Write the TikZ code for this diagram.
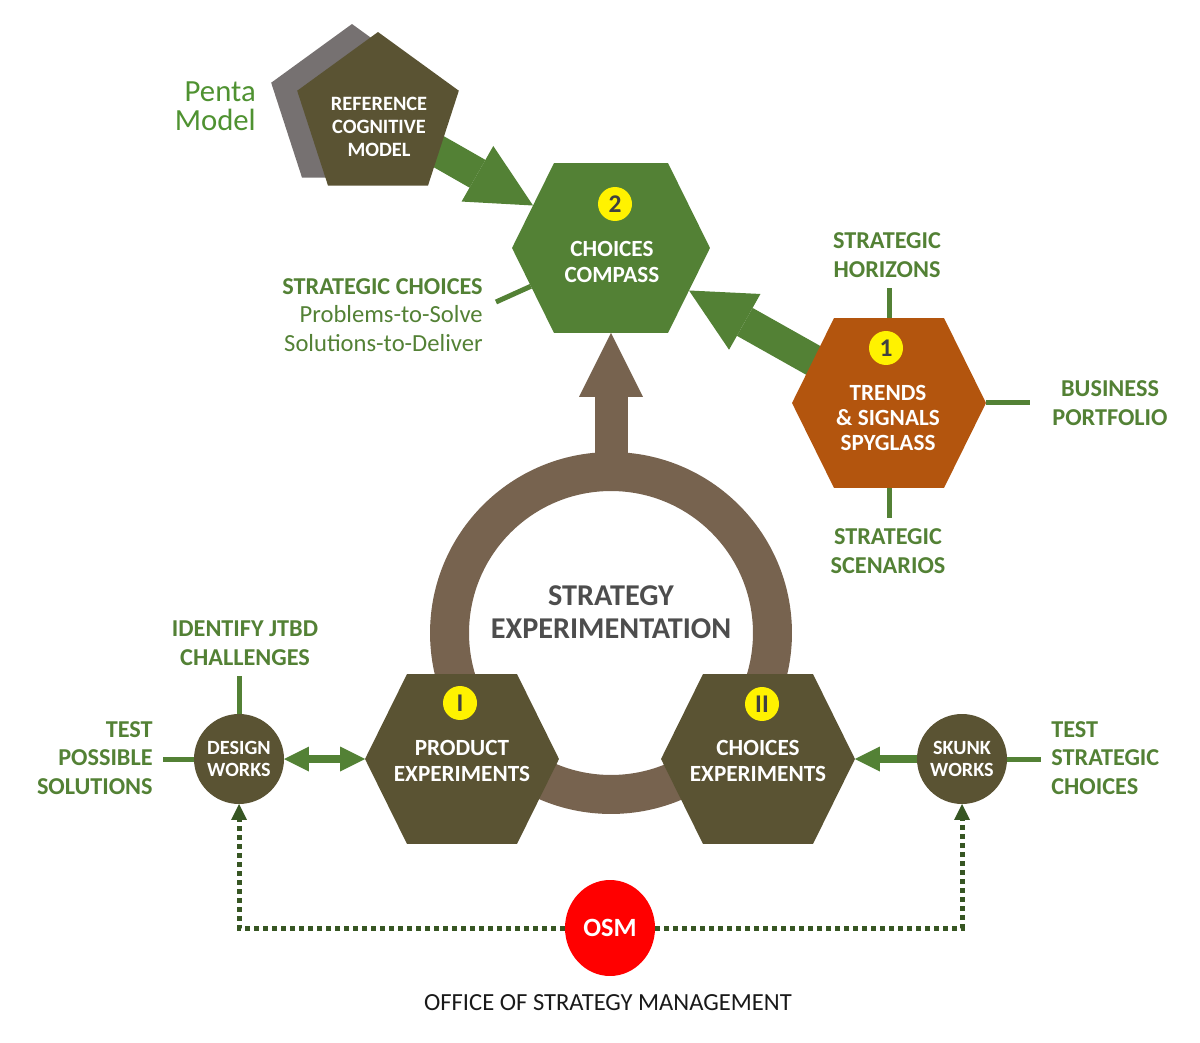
\documentclass[tikz,border=0pt]{standalone}
\usepackage{fontspec}
\setmainfont{Carlito}
\usepackage{tikz}
\usetikzlibrary{positioning,shapes.geometric,arrows.meta,calc,backgrounds}
\definecolor{smgreen}{HTML}{538135}
\definecolor{smlight}{HTML}{4F9231}
\definecolor{smolive}{HTML}{5A5333}
\definecolor{smgrey}{HTML}{767171}
\definecolor{smring}{HTML}{77634F}
\definecolor{smrust}{HTML}{B3550E}
\definecolor{smdot}{HTML}{375623}
\definecolor{smred}{HTML}{FF0000}
\definecolor{smink}{HTML}{4D4D4D}
\definecolor{smbadge}{HTML}{404040}
\newcommand{\fs}[2]{\fontsize{#1pt}{#2pt}\selectfont}
\newcommand{\hexfill}[2]{\fill[#2] (#1.west) -- ([xshift=.84cm]#1.north west) -- ([xshift=-.84cm]#1.north east) -- (#1.east) -- ([xshift=-.84cm]#1.south east) -- ([xshift=.84cm]#1.south west) -- cycle;}
\tikzset{
  hexbox/.style={minimum width=3.88cm,minimum height=3.4cm,inner sep=0pt,outer sep=0pt},
  hextxt/.style={text=white,align=center,font=\fs{13.2}{14.5}\bfseries,inner sep=0pt},
  badge/.style={circle,fill=yellow,minimum size=0.68cm,inner sep=0pt,text=smbadge,font=\fs{14.5}{14.5}\bfseries},
  pent/.style={regular polygon,regular polygon sides=5,minimum size=3.4cm,inner sep=0pt,outer sep=0pt},
  lab/.style={text=smgreen,align=center,font=\fs{13.8}{16.2}\bfseries,inner sep=0.2cm},
  works/.style={circle,fill=smolive,minimum size=1.8cm,inner sep=0pt,outer sep=0pt,text=white,align=center,font=\fs{11.5}{13}\bfseries},
  spoke/.style={draw=smgreen,line width=0.1cm},
  bigarrow/.style={line width=0.64cm,-{Triangle[length=1.28cm,width=1.28cm,line width=0pt]}},
  link/.style={draw=smgreen,line width=0.16cm,-{Triangle[length=0.5cm,width=0.5cm,line width=0pt]}},
  link2/.style={link,{Triangle[length=0.5cm,width=0.5cm,line width=0pt]}-{Triangle[length=0.5cm,width=0.5cm,line width=0pt]}},
  osmlink/.style={draw=smdot,line width=0.1cm,dash pattern=on 0.09cm off 0.09cm,-{Triangle[length=0.32cm,width=0.32cm,line width=0pt]}},
  ringsty/.style={circle,draw=smring,line width=0.78cm,minimum size=6.46cm,inner sep=0pt,outer sep=0pt},
}

\begin{document}
\begin{tikzpicture}[x=0.02cm,y=-0.02cm]
  \useasboundingbox (0,0) rectangle (1200,1043);

  % hexagon frames
  \node[hexbox,minimum width=3.96cm] (compass) at (611,248) {};
  \node[hexbox] (trends) at (889,403) {};
  \node[hexbox] (prod) at (462,759) {};
  \node[hexbox] (chx) at (758,759) {};

  % penta model
  \node[pent,fill=smgrey] (pentaShadow) at (352,109) {};
  \node[pent,fill=smolive] (penta) at (378,117) {};
  \node[text=white,align=center,font=\fs{11.6}{13}\bfseries] (refTxt) at (379,127) {REFERENCE\\COGNITIVE\\MODEL};
  \node[text=smlight,align=right,anchor=east,font=\fs{17.5}{16.5}] (pentaLab) at (262,106) {Penta\\Model};

  % hexagon texts
  \node[badge] (b2) at (615,204) {2};
  \node[hextxt] (compassTxt) at (612,262) {CHOICES\\COMPASS};
  \node[badge] (b1) at (886,348) {1};
  \node[hextxt] (trendsTxt) at (888,418) {TRENDS\\\& SIGNALS\\SPYGLASS};
  \node[badge] (bI) at (460,703) {I};
  \node[hextxt] (prodTxt) at (462,761) {PRODUCT\\EXPERIMENTS};
  \node[badge] (bII) at (762,704) {II};
  \node[hextxt] (chxTxt) at (758,761) {CHOICES\\EXPERIMENTS};

  \node[font=\fs{17.2}{18.7}\bfseries,text=smink,align=center] (stratExp) at (611,612) {STRATEGY\\EXPERIMENTATION};

  % works circles
  \node[works] (design) at (239,759) {DESIGN\\WORKS};
  \node[works] (skunk) at (962,759) {SKUNK\\WORKS};

  % labels
  \node[lab] (horizons) at (887,255) {STRATEGIC\\HORIZONS};
  \node[lab] (scenarios) at (888,551) {STRATEGIC\\SCENARIOS};
  \node[lab] (portfolio) at (1110,403) {BUSINESS\\PORTFOLIO};
  \node[lab] (jtbd) at (245,643) {IDENTIFY JTBD\\CHALLENGES};
  \node[lab,align=right,anchor=east] (solutions) at (163,758) {TEST\\POSSIBLE\\SOLUTIONS};
  \node[lab,align=left,anchor=west] (testChoices) at (1041,758) {TEST\\STRATEGIC\\CHOICES};
  \node[lab,align=right,anchor=east] (stratChoices) at (493,315) {STRATEGIC CHOICES\\\mdseries\fs{14}{14.5}Problems-to-Solve\\\mdseries\fs{14}{14.5}Solutions-to-Deliver};
  \coordinate (scEnd) at (496,302);

  % osm
  \node[ellipse,fill=smred,minimum width=1.8cm,minimum height=1.92cm,inner sep=0pt,text=white,font=\fs{15}{15}\bfseries] (osm) at (610,928) {OSM};
  \node[text=black!90,font=\fs{14}{14}] (office) at (608,1003) {OFFICE OF STRATEGY MANAGEMENT};

  % spokes
  \draw[spoke] (trends.north) -- (trends.north |- horizons.south);
  \draw[spoke] (trends.south) -- (trends.south |- scenarios.north);
  \draw[spoke] (trends.east) -- ([xshift=-0.24cm]portfolio.west |- trends.east);
  \draw[spoke] (scEnd) -- ($(compass.west)!.45!([xshift=.84cm]compass.south west)$);
  \draw[spoke] (design.north) -- (design.north |- jtbd.south);
  \draw[spoke] (design.west) -- (solutions.east |- design.west);
  \draw[spoke] (skunk.east) -- (testChoices.west |- skunk.east);

  \draw[link2] (design.east) -- (prod.west);
  \draw[link] (skunk.west) -- (chx.east);
  \draw[osmlink] (osm.west) -| (design.south);
  \draw[osmlink] (osm.east) -| (skunk.south);

  \begin{scope}[on background layer]
    \draw[bigarrow,draw=smgreen] (penta.center) -- ($(compass.west)!.5!([xshift=.84cm]compass.north west)$);
    \draw[bigarrow,draw=smgreen] (trends.center) -- ($(compass.east)!.5!([xshift=-.84cm]compass.south east)$);
    \node[ringsty] (ring) at (611,633) {};
    \draw[bigarrow,draw=smring,line width=0.66cm] (ring.north) -- (compass.south);
    \hexfill{compass}{smgreen}
    \hexfill{trends}{smrust}
    \hexfill{prod}{smolive}
    \hexfill{chx}{smolive}
  \end{scope}
\end{tikzpicture}
\end{document}
